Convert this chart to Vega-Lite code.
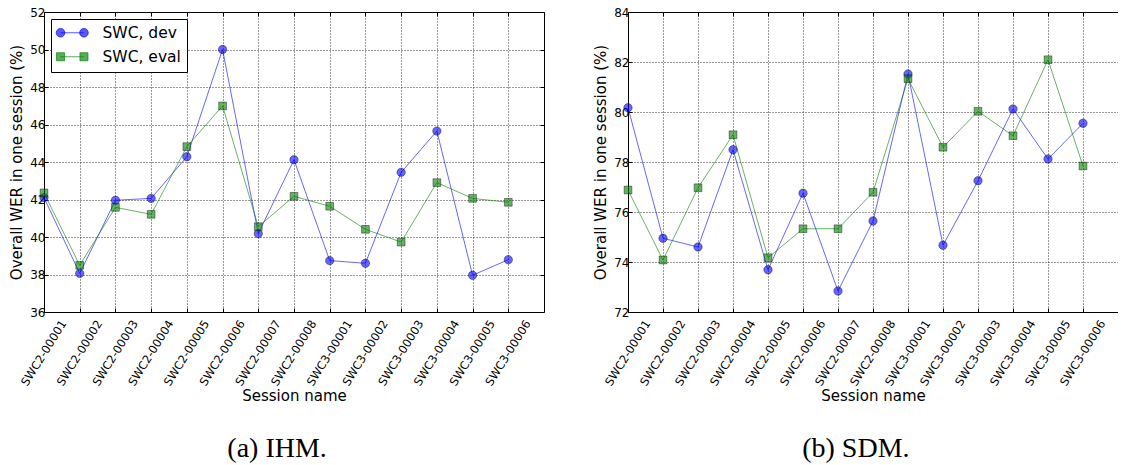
{
  "$schema": "https://vega.github.io/schema/vega-lite/v6.json",
  "padding": {"left": 9, "top": 6, "right": 0, "bottom": 0},
  "autosize": {"type": "pad"},
  "spacing": 48,
  "datasets": {
    "ihm": [
      {"session": "SWC2-00001", "series": "SWC, dev", "wer": 42.1},
      {"session": "SWC2-00001", "series": "SWC, eval", "wer": 42.35},
      {"session": "SWC2-00002", "series": "SWC, dev", "wer": 38.06},
      {"session": "SWC2-00002", "series": "SWC, eval", "wer": 38.49},
      {"session": "SWC2-00003", "series": "SWC, dev", "wer": 41.96},
      {"session": "SWC2-00003", "series": "SWC, eval", "wer": 41.58},
      {"session": "SWC2-00004", "series": "SWC, dev", "wer": 42.06},
      {"session": "SWC2-00004", "series": "SWC, eval", "wer": 41.21},
      {"session": "SWC2-00005", "series": "SWC, dev", "wer": 44.28},
      {"session": "SWC2-00005", "series": "SWC, eval", "wer": 44.82},
      {"session": "SWC2-00006", "series": "SWC, dev", "wer": 50.0},
      {"session": "SWC2-00006", "series": "SWC, eval", "wer": 46.99},
      {"session": "SWC2-00007", "series": "SWC, dev", "wer": 40.18},
      {"session": "SWC2-00007", "series": "SWC, eval", "wer": 40.55},
      {"session": "SWC2-00008", "series": "SWC, dev", "wer": 44.12},
      {"session": "SWC2-00008", "series": "SWC, eval", "wer": 42.17},
      {"session": "SWC3-00001", "series": "SWC, dev", "wer": 38.74},
      {"session": "SWC3-00001", "series": "SWC, eval", "wer": 41.64},
      {"session": "SWC3-00002", "series": "SWC, dev", "wer": 38.6},
      {"session": "SWC3-00002", "series": "SWC, eval", "wer": 40.41},
      {"session": "SWC3-00003", "series": "SWC, dev", "wer": 43.45},
      {"session": "SWC3-00003", "series": "SWC, eval", "wer": 39.73},
      {"session": "SWC3-00004", "series": "SWC, dev", "wer": 45.65},
      {"session": "SWC3-00004", "series": "SWC, eval", "wer": 42.9},
      {"session": "SWC3-00005", "series": "SWC, dev", "wer": 37.96},
      {"session": "SWC3-00005", "series": "SWC, eval", "wer": 42.06},
      {"session": "SWC3-00006", "series": "SWC, dev", "wer": 38.79},
      {"session": "SWC3-00006", "series": "SWC, eval", "wer": 41.85}
    ],
    "sdm": [
      {"session": "SWC2-00001", "series": "SWC, dev", "wer": 80.17},
      {"session": "SWC2-00001", "series": "SWC, eval", "wer": 76.88},
      {"session": "SWC2-00002", "series": "SWC, dev", "wer": 74.95},
      {"session": "SWC2-00002", "series": "SWC, eval", "wer": 74.08},
      {"session": "SWC2-00003", "series": "SWC, dev", "wer": 74.6},
      {"session": "SWC2-00003", "series": "SWC, eval", "wer": 76.97},
      {"session": "SWC2-00004", "series": "SWC, dev", "wer": 78.49},
      {"session": "SWC2-00004", "series": "SWC, eval", "wer": 79.09},
      {"session": "SWC2-00005", "series": "SWC, dev", "wer": 73.69},
      {"session": "SWC2-00005", "series": "SWC, eval", "wer": 74.17},
      {"session": "SWC2-00006", "series": "SWC, dev", "wer": 76.75},
      {"session": "SWC2-00006", "series": "SWC, eval", "wer": 75.33},
      {"session": "SWC2-00007", "series": "SWC, dev", "wer": 72.84},
      {"session": "SWC2-00007", "series": "SWC, eval", "wer": 75.33},
      {"session": "SWC2-00008", "series": "SWC, dev", "wer": 75.64},
      {"session": "SWC2-00008", "series": "SWC, eval", "wer": 76.79},
      {"session": "SWC3-00001", "series": "SWC, dev", "wer": 81.52},
      {"session": "SWC3-00001", "series": "SWC, eval", "wer": 81.33},
      {"session": "SWC3-00002", "series": "SWC, dev", "wer": 74.67},
      {"session": "SWC3-00002", "series": "SWC, eval", "wer": 78.59},
      {"session": "SWC3-00003", "series": "SWC, dev", "wer": 77.25},
      {"session": "SWC3-00003", "series": "SWC, eval", "wer": 80.03},
      {"session": "SWC3-00004", "series": "SWC, dev", "wer": 80.12},
      {"session": "SWC3-00004", "series": "SWC, eval", "wer": 79.05},
      {"session": "SWC3-00005", "series": "SWC, dev", "wer": 78.12},
      {"session": "SWC3-00005", "series": "SWC, eval", "wer": 82.09},
      {"session": "SWC3-00006", "series": "SWC, dev", "wer": 79.55},
      {"session": "SWC3-00006", "series": "SWC, eval", "wer": 77.84}
    ]
  },
  "hconcat": [
    {
      "width": 500,
      "height": 300,
      "data": {"name": "ihm"},
      "title": {"text": "(a) IHM.", "orient": "bottom", "anchor": "middle", "frame": "bounds", "offset": 31, "font": "Liberation Serif", "fontSize": 28, "fontWeight": "normal", "color": "#000"},
      "layer": [
        {
          "mark": {"type": "line", "strokeWidth": 1, "opacity": 0.6},
          "encoding": {
            "x": {"field": "session", "type": "nominal", "sort": null, "scale": {"type": "point", "paddingOuter": 0.5, "align": 0},
                  "axis": {"orient": "bottom", "title": "Session name", "labelAngle": -58, "labelAlign": "center", "labelBaseline": "middle", "labelPadding": 45, "labelFontSize": 11.5, "grid": true, "titlePadding": 1}},
            "y": {"field": "wer", "type": "quantitative", "scale": {"domain": [36, 52], "nice": false, "zero": false},
                  "axis": {"orient": "left", "title": "Overall WER in one session (%)", "values": [36, 38, 40, 42, 44, 46, 48, 50, 52], "grid": true, "labelPadding": 3, "titlePadding": 5}},
            "color": {"field": "series", "type": "nominal", "scale": {"domain": ["SWC, dev", "SWC, eval"], "range": ["#0000ff", "#008000"]},
                      "legend": {"title": null, "orient": "top-left", "offset": 7, "padding": 6, "fillColor": "#fff", "strokeColor": "#000", "cornerRadius": 0, "labelFont": "DejaVu Sans", "labelFontSize": 15.5, "labelColor": "#000", "labelOffset": 30, "symbolSize": 144, "rowPadding": 7, "symbolStrokeWidth": 1,
                        "encoding": {"symbols": {
                          "shape": {"value": {"expr": "datum.value === 'SWC, dev' ? 'M-0.7,0L3.2,0M-1.42,0A0.72,0.72,0,1,0,0.02,0A0.72,0.72,0,1,0,-1.42,0ZM2.48,0A0.72,0.72,0,1,0,3.92,0A0.72,0.72,0,1,0,2.48,0Z' : 'M-0.7,0L3.2,0M-1.37,-0.67H-0.03V0.67H-1.37ZM2.53,-0.67H3.87V0.67H2.53Z'"}},
                          "opacity": {"value": 1},
                          "fillOpacity": {"value": 0.65},
                          "strokeOpacity": {"value": 0.65}
                        }}}}
          }
        },
        {
          "transform": [{"filter": "datum.series === 'SWC, dev'"}],
          "mark": {"type": "point", "shape": "circle", "filled": true, "size": 70, "fillOpacity": 0.6, "stroke": "#000", "strokeOpacity": 0.5, "strokeWidth": 0.8},
          "encoding": {
            "x": {"field": "session", "type": "nominal", "sort": null, "scale": {"type": "point", "paddingOuter": 0.5, "align": 0},
                  "axis": {"orient": "top", "labels": false, "title": null, "grid": false}},
            "y": {"field": "wer", "type": "quantitative", "scale": {"domain": [36, 52], "nice": false, "zero": false},
                  "axis": {"orient": "right", "labels": false, "title": null, "grid": false, "values": [36, 38, 40, 42, 44, 46, 48, 50, 52]}},
            "color": {"field": "series", "type": "nominal", "scale": {"domain": ["SWC, dev", "SWC, eval"], "range": ["#0000ff", "#008000"]},
                      "legend": {"title": null, "orient": "top-left", "offset": 7, "padding": 6, "fillColor": "#fff", "strokeColor": "#000", "cornerRadius": 0, "labelFont": "DejaVu Sans", "labelFontSize": 15.5, "labelColor": "#000", "labelOffset": 30, "symbolSize": 144, "rowPadding": 7, "symbolStrokeWidth": 1,
                        "encoding": {"symbols": {
                          "shape": {"value": {"expr": "datum.value === 'SWC, dev' ? 'M-0.7,0L3.2,0M-1.42,0A0.72,0.72,0,1,0,0.02,0A0.72,0.72,0,1,0,-1.42,0ZM2.48,0A0.72,0.72,0,1,0,3.92,0A0.72,0.72,0,1,0,2.48,0Z' : 'M-0.7,0L3.2,0M-1.37,-0.67H-0.03V0.67H-1.37ZM2.53,-0.67H3.87V0.67H2.53Z'"}},
                          "opacity": {"value": 1},
                          "fillOpacity": {"value": 0.65},
                          "strokeOpacity": {"value": 0.65}
                        }}}}
          }
        },
        {
          "transform": [{"filter": "datum.series === 'SWC, eval'"}],
          "mark": {"type": "point", "shape": "square", "filled": true, "size": 60, "fillOpacity": 0.6, "stroke": "#000", "strokeOpacity": 0.5, "strokeWidth": 0.8},
          "encoding": {
            "x": {"field": "session", "type": "nominal", "sort": null, "scale": {"type": "point", "paddingOuter": 0.5, "align": 0}, "axis": null},
            "y": {"field": "wer", "type": "quantitative", "scale": {"domain": [36, 52], "nice": false, "zero": false}, "axis": null},
            "color": {"field": "series", "type": "nominal", "scale": {"domain": ["SWC, dev", "SWC, eval"], "range": ["#0000ff", "#008000"]},
                      "legend": {"title": null, "orient": "top-left", "offset": 7, "padding": 6, "fillColor": "#fff", "strokeColor": "#000", "cornerRadius": 0, "labelFont": "DejaVu Sans", "labelFontSize": 15.5, "labelColor": "#000", "labelOffset": 30, "symbolSize": 144, "rowPadding": 7, "symbolStrokeWidth": 1,
                        "encoding": {"symbols": {
                          "shape": {"value": {"expr": "datum.value === 'SWC, dev' ? 'M-0.7,0L3.2,0M-1.42,0A0.72,0.72,0,1,0,0.02,0A0.72,0.72,0,1,0,-1.42,0ZM2.48,0A0.72,0.72,0,1,0,3.92,0A0.72,0.72,0,1,0,2.48,0Z' : 'M-0.7,0L3.2,0M-1.37,-0.67H-0.03V0.67H-1.37ZM2.53,-0.67H3.87V0.67H2.53Z'"}},
                          "opacity": {"value": 1},
                          "fillOpacity": {"value": 0.65},
                          "strokeOpacity": {"value": 0.65}
                        }}}}
          }
        }
      ],
      "resolve": {"axis": {"x": "independent", "y": "independent"}}
    },
    {
      "width": 490,
      "height": 300,
      "data": {"name": "sdm"},
      "title": {"text": "(b) SDM.", "orient": "bottom", "anchor": "middle", "frame": "bounds", "offset": 31, "font": "Liberation Serif", "fontSize": 28, "fontWeight": "normal", "color": "#000"},
      "layer": [
        {
          "mark": {"type": "line", "strokeWidth": 1, "opacity": 0.6},
          "encoding": {
            "x": {"field": "session", "type": "nominal", "sort": null, "scale": {"type": "point", "paddingOuter": 0.36, "align": 0},
                  "axis": {"orient": "bottom", "title": "Session name", "labelAngle": -58, "labelAlign": "center", "labelBaseline": "middle", "labelPadding": 45, "labelFontSize": 11.5, "grid": true, "titlePadding": 1}},
            "y": {"field": "wer", "type": "quantitative", "scale": {"domain": [72, 84], "nice": false, "zero": false},
                  "axis": {"orient": "left", "title": "Overall WER in one session (%)", "values": [72, 74, 76, 78, 80, 82, 84], "grid": true, "labelPadding": 3, "titlePadding": 5}},
            "color": {"field": "series", "type": "nominal", "scale": {"domain": ["SWC, dev", "SWC, eval"], "range": ["#0000ff", "#008000"]},
                      "legend": {"title": null, "orient": "top-left", "offset": 7, "padding": 6, "fillColor": "#fff", "strokeColor": "#000", "cornerRadius": 0, "labelFont": "DejaVu Sans", "labelFontSize": 15.5, "labelColor": "#000", "labelOffset": 30, "symbolSize": 144, "rowPadding": 7, "symbolStrokeWidth": 1,
                        "encoding": {"symbols": {
                          "shape": {"value": {"expr": "datum.value === 'SWC, dev' ? 'M-0.7,0L3.2,0M-1.42,0A0.72,0.72,0,1,0,0.02,0A0.72,0.72,0,1,0,-1.42,0ZM2.48,0A0.72,0.72,0,1,0,3.92,0A0.72,0.72,0,1,0,2.48,0Z' : 'M-0.7,0L3.2,0M-1.37,-0.67H-0.03V0.67H-1.37ZM2.53,-0.67H3.87V0.67H2.53Z'"}},
                          "opacity": {"value": 1},
                          "fillOpacity": {"value": 0.65},
                          "strokeOpacity": {"value": 0.65}
                        }}}}
          }
        },
        {
          "transform": [{"filter": "datum.series === 'SWC, dev'"}],
          "mark": {"type": "point", "shape": "circle", "filled": true, "size": 70, "fillOpacity": 0.6, "stroke": "#000", "strokeOpacity": 0.5, "strokeWidth": 0.8},
          "encoding": {
            "x": {"field": "session", "type": "nominal", "sort": null, "scale": {"type": "point", "paddingOuter": 0.36, "align": 0},
                  "axis": {"orient": "top", "labels": false, "title": null, "grid": false}},
            "y": {"field": "wer", "type": "quantitative", "scale": {"domain": [72, 84], "nice": false, "zero": false}, "axis": null},
            "color": {"field": "series", "type": "nominal", "scale": {"domain": ["SWC, dev", "SWC, eval"], "range": ["#0000ff", "#008000"]},
                      "legend": {"title": null, "orient": "top-left", "offset": 7, "padding": 6, "fillColor": "#fff", "strokeColor": "#000", "cornerRadius": 0, "labelFont": "DejaVu Sans", "labelFontSize": 15.5, "labelColor": "#000", "labelOffset": 30, "symbolSize": 144, "rowPadding": 7, "symbolStrokeWidth": 1,
                        "encoding": {"symbols": {
                          "shape": {"value": {"expr": "datum.value === 'SWC, dev' ? 'M-0.7,0L3.2,0M-1.42,0A0.72,0.72,0,1,0,0.02,0A0.72,0.72,0,1,0,-1.42,0ZM2.48,0A0.72,0.72,0,1,0,3.92,0A0.72,0.72,0,1,0,2.48,0Z' : 'M-0.7,0L3.2,0M-1.37,-0.67H-0.03V0.67H-1.37ZM2.53,-0.67H3.87V0.67H2.53Z'"}},
                          "opacity": {"value": 1},
                          "fillOpacity": {"value": 0.65},
                          "strokeOpacity": {"value": 0.65}
                        }}}}
          }
        },
        {
          "transform": [{"filter": "datum.series === 'SWC, eval'"}],
          "mark": {"type": "point", "shape": "square", "filled": true, "size": 60, "fillOpacity": 0.6, "stroke": "#000", "strokeOpacity": 0.5, "strokeWidth": 0.8},
          "encoding": {
            "x": {"field": "session", "type": "nominal", "sort": null, "scale": {"type": "point", "paddingOuter": 0.36, "align": 0}, "axis": null},
            "y": {"field": "wer", "type": "quantitative", "scale": {"domain": [72, 84], "nice": false, "zero": false}, "axis": null},
            "color": {"field": "series", "type": "nominal", "scale": {"domain": ["SWC, dev", "SWC, eval"], "range": ["#0000ff", "#008000"]},
                      "legend": {"title": null, "orient": "top-left", "offset": 7, "padding": 6, "fillColor": "#fff", "strokeColor": "#000", "cornerRadius": 0, "labelFont": "DejaVu Sans", "labelFontSize": 15.5, "labelColor": "#000", "labelOffset": 30, "symbolSize": 144, "rowPadding": 7, "symbolStrokeWidth": 1,
                        "encoding": {"symbols": {
                          "shape": {"value": {"expr": "datum.value === 'SWC, dev' ? 'M-0.7,0L3.2,0M-1.42,0A0.72,0.72,0,1,0,0.02,0A0.72,0.72,0,1,0,-1.42,0ZM2.48,0A0.72,0.72,0,1,0,3.92,0A0.72,0.72,0,1,0,2.48,0Z' : 'M-0.7,0L3.2,0M-1.37,-0.67H-0.03V0.67H-1.37ZM2.53,-0.67H3.87V0.67H2.53Z'"}},
                          "opacity": {"value": 1},
                          "fillOpacity": {"value": 0.65},
                          "strokeOpacity": {"value": 0.65}
                        }}}}
          }
        }
      ],
      "resolve": {"axis": {"x": "independent", "y": "independent"}}
    }
  ],
  "config": {
    "font": "DejaVu Sans",
    "view": {"stroke": null},
    "axis": {
      "labelFont": "DejaVu Sans", "labelFontSize": 12, "labelColor": "#000",
      "titleFont": "DejaVu Sans", "titleFontSize": 15, "titleFontWeight": "normal", "titleColor": "#000",
      "domainColor": "#000", "domainWidth": 1,
      "tickColor": "#000", "tickSize": -4, "tickWidth": 1,
      "gridColor": "#000", "gridDash": [1, 2], "gridWidth": 0.8, "gridOpacity": 1
    }
  }
}
